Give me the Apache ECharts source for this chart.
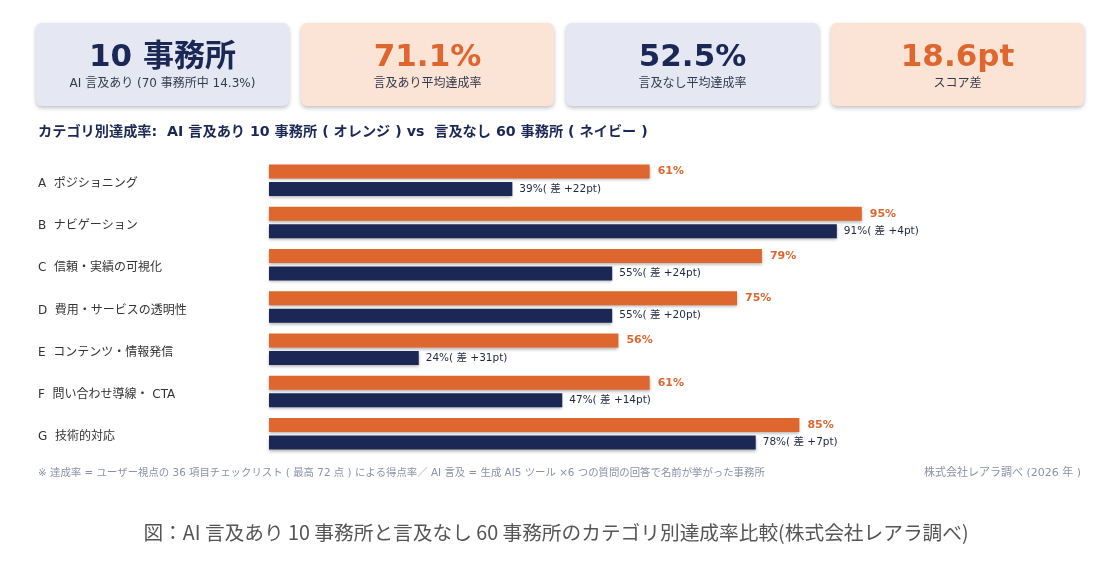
<!DOCTYPE html>
<html>
<head>
<meta charset="utf-8">
<script src="https://cdn.jsdelivr.net/npm/echarts@6/dist/echarts.min.js"></script>
<style>
  html, body { margin: 0; padding: 0; background: #fff; }
  #chart { width: 1118px; height: 566px; }
</style>
</head>
<body>
<div id="chart"></div>
<script type="text/javascript">
  // カテゴリと値
  var categories = ['A  ポジショニング', 'B  ナビゲーション', 'C  信頼・実績の可視化', 'D  費用・サービスの透明性', 'E  コンテンツ・情報発信', 'F  問い合わせ導線・ CTA', 'G  技術的対応'];
  var mentioned = [61, 95, 79, 75, 56, 61, 85];     // AI 言及あり (オレンジ)
  var notMentioned = [39, 91, 55, 55, 24, 47, 78];  // 言及なし (ネイビー)
  var diffs = [22, 4, 24, 20, 31, 14, 7];           // 差 (pt)

  // 上部カード
  var cardValues = ['10 事務所', '71.1%', '52.5%', '18.6pt'];
  var cardLabels = ['AI 言及あり (70 事務所中 14.3%)', '言及あり平均達成率', '言及なし平均達成率', 'スコア差'];

  var NAVY = '#1b2754';
  var ORANGE = '#dd672e';
  var FONT = '"DejaVu Sans", "Noto Sans CJK JP", sans-serif';

  var chart = echarts.init(document.getElementById('chart'));

  var graphics = [];
  cardValues.forEach(function (v, i) {
    var x = 36 + i * 265;
    var isOrange = i % 2 === 1;
    graphics.push({
      type: 'rect',
      shape: { x: x, y: 23, width: 253, height: 83, r: 6 },
      style: {
        fill: isOrange ? '#fbe3d5' : '#e5e8f3',
        shadowColor: 'rgba(0,0,0,0.25)', shadowBlur: 4, shadowOffsetY: 2
      }
    });
    graphics.push({
      type: 'text', x: x + 126.5, y: 58,
      style: {
        text: v, fill: isOrange ? ORANGE : NAVY,
        font: 'bold 31px ' + FONT, align: 'center', verticalAlign: 'middle'
      }
    });
    graphics.push({
      type: 'text', x: x + 126.5, y: 84,
      style: {
        text: cardLabels[i], fill: '#333a4d',
        font: '12px ' + FONT, align: 'center', verticalAlign: 'middle'
      }
    });
  });

  graphics.push({
    type: 'text', left: 38, top: 125,
    style: {
      text: 'カテゴリ別達成率:  AI 言及あり 10 事務所 ( オレンジ ) vs  言及なし 60 事務所 ( ネイビー )',
      fill: NAVY, font: 'bold 14.2px ' + FONT
    }
  });
  graphics.push({
    type: 'text', left: 38, top: 468,
    style: {
      text: '※ 達成率 = ユーザー視点の 36 項目チェックリスト ( 最高 72 点 ) による得点率／ AI 言及 = 生成 AI5 ツール ×6 つの質問の回答で名前が挙がった事務所',
      fill: '#8a92a6', font: '10.4px ' + FONT
    }
  });
  graphics.push({
    type: 'text', right: 37, top: 468,
    style: { text: '株式会社レアラ調べ (2026 年 )', fill: '#8a92a6', font: '11px ' + FONT }
  });
  graphics.push({
    type: 'text', x: 556, y: 533,
    style: {
      text: '図：AI 言及あり 10 事務所と言及なし 60 事務所のカテゴリ別達成率比較(株式会社レアラ調べ)',
      fill: '#555555', font: '19.7px "Noto Sans CJK JP", sans-serif',
      align: 'center', verticalAlign: 'middle'
    }
  });

  var option = {
    backgroundColor: '#ffffff',
    animation: false,
    textStyle: { fontFamily: FONT },
    grid: { left: 269, width: 624, top: 159, height: 296, containLabel: false },
    xAxis: {
      type: 'value', min: 0, max: 100,
      show: false, splitLine: { show: false }
    },
    yAxis: {
      type: 'category', inverse: true, data: categories,
      axisLine: { show: false }, axisTick: { show: false },
      axisLabel: {
        align: 'left', margin: 231, verticalAlign: 'middle',
        formatter: function (v) { return '{c|' + v + '}'; },
        rich: { c: { fontSize: 12, color: '#333333', padding: [7, 0, 0, 0] } }
      }
    },
    series: [
      {
        name: '言及あり', type: 'bar', data: mentioned,
        barWidth: 14, barGap: '25%',
        itemStyle: { color: ORANGE, shadowColor: 'rgba(0,0,0,0.3)', shadowBlur: 3, shadowOffsetY: 2 },
        label: {
          show: true, position: 'right', distance: 8,
          color: ORANGE, fontWeight: 'bold', fontSize: 11,
          formatter: function (p) { return p.value + '%'; }
        }
      },
      {
        name: '言及なし', type: 'bar', data: notMentioned,
        barWidth: 14,
        itemStyle: { color: NAVY, shadowColor: 'rgba(0,0,0,0.3)', shadowBlur: 3, shadowOffsetY: 2 },
        label: {
          show: true, position: 'right', distance: 7,
          color: '#1f2740', fontSize: 10.5,
          formatter: function (p) { return p.value + '%( 差 +' + diffs[p.dataIndex] + 'pt)'; }
        }
      }
    ],
    graphic: graphics
  };

  chart.setOption(option);
</script>
</body>
</html>
